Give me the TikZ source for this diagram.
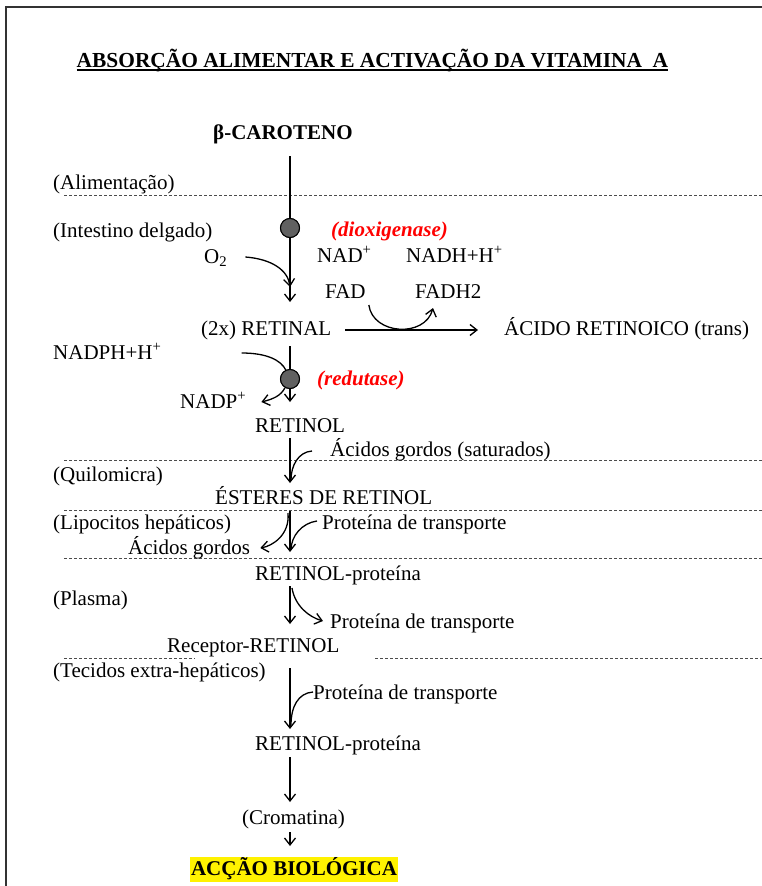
\documentclass[tikz,border=0pt]{standalone}
\usepackage{fontspec}
\setmainfont{Liberation Serif}
\usetikzlibrary{arrows.meta, positioning, calc}

\begin{document}
\begin{tikzpicture}[x=1pt, y=-1pt,
    lbl/.style={anchor=base west, inner sep=0pt, font=\fontsize{21}{25}\selectfont},
    enzlbl/.style={anchor=base west, inner sep=0pt, text=red, font=\fontsize{21}{25}\selectfont\bfseries\itshape},
    enzdot/.style={circle, draw=black, line width=1pt, fill=black!62, minimum size=19pt, inner sep=0pt},
    arr/.style={line width=1.3pt, -{Straight Barb[length=7pt,width=11pt]}},
    lnk/.style={line width=1.3pt},
    zone/.style={dash pattern=on 3pt off 2pt, line width=0.8pt, black!70}]
    \useasboundingbox (0,0) rectangle (762,886);
    % Frame
    \draw[line width=2pt, black!80] (6,886) -- (6,7) -- (762,7);
    % Title
    \node[anchor=base, inner sep=0pt, font=\fontsize{21.4}{25}\selectfont\bfseries] (titulo) at (372.5,67) {ABSORÇÃO ALIMENTAR E ACTIVAÇÃO DA VITAMINA\ \ A};
    \draw[line width=1.8pt] ($(titulo.base west)+(0,3)$) -- ($(titulo.base east)+(0,3)$);
    % Compartments (left) and zone borders
    \node[lbl] (aliment) at (53,189) {(Alimentação)};
    \node[lbl] (intestino) at (53,237) {(Intestino delgado)};
    \node[lbl] (quilo) at (53,481) {(Quilomicra)};
    \node[lbl] (lipo) at (53,529) {(Lipocitos hepáticos)};
    \node[lbl] (plasma) at (53,605) {(Plasma)};
    \node[lbl] (tecidos) at (53,677) {(Tecidos extra-hepáticos)};
    \draw[zone] (64,195) -- (762,195);
    \draw[zone] (64,460) -- (762,460);
    \draw[zone] (64,510) -- (762,510);
    \draw[zone] (64,558) -- (762,558);
    \draw[zone] (64,658) -- (195,658);
    \draw[zone] (375,658) -- (762,658);
    % Main chain
    \node[lbl, font=\fontsize{21}{25}\selectfont\bfseries] (caroteno) at (213,139) {β-CAROTENO};
    \node[enzdot] (enz1) at (290,228) {};
    \node[enzlbl] (dioxi) at (331,236) {(dioxigenase)};
    \node[lbl] (oxig) at (204,263) {O\textsubscript{2}};
    \node[lbl] (nad) at (317,262) {NAD\textsuperscript{+}};
    \node[lbl] (nadh) at (406,262) {NADH+H\textsuperscript{+}};
    \node[lbl] (fad) at (325,298) {FAD};
    \node[lbl] (fadh) at (415,298) {FADH2};
    \node[lbl] (retinal) at (201,335) {(2x) RETINAL};
    \node[lbl] (acido) at (504,335) {ÁCIDO RETINOICO (trans)};
    \node[lbl] (nadph) at (53,359) {NADPH+H\textsuperscript{+}};
    \node[enzdot] (enz2) at (290,379) {};
    \node[enzlbl] (redut) at (317,385) {(redutase)};
    \node[lbl] (nadp) at (180,408) {NADP\textsuperscript{+}};
    \node[lbl] (retinol) at (255,432) {RETINOL};
    \node[lbl] (acsat) at (330,456) {Ácidos gordos (saturados)};
    \node[lbl] (esteres) at (215,504) {ÉSTERES DE RETINOL};
    \node[lbl] (prot1) at (322,529) {Proteína de transporte};
    \node[lbl] (acgord) at (128,554) {Ácidos gordos};
    \node[lbl] (retprot) at (255,580) {RETINOL-proteína};
    \node[lbl] (prot2) at (330,628) {Proteína de transporte};
    \node[lbl] (receptor) at (167,652) {Receptor-RETINOL};
    \node[lbl] (prot3) at (313,699) {Proteína de transporte};
    \node[lbl] (retprot2) at (255,750) {RETINOL-proteína};
    \node[lbl] (cromatina) at (242,824) {(Cromatina)};
    \node[anchor=base, fill=yellow, inner xsep=1.5pt, inner ysep=2pt, text height=16pt, text depth=5pt,
          font=\fontsize{21}{25}\selectfont\bfseries] (accao) at (294,875) {ACÇÃO BIOLÓGICA};
    % Arrows: carotene -> retinal
    \draw[arr] ($(caroteno.base -| enz1)+(0,17)$) -- ($(retinal.base -| enz1)+(0,-33)$);
    \node[enzdot] at (enz1) {};
    \draw[arr] ($(oxig.base east)+(18,-6)$) .. controls +(26,2) and +(-2,-17) .. ($(retinal.base -| enz1)+(0,-48)$);
    \draw[arr] ($(fad.base east)+(3,7)$) .. controls +(4,30) and +(-8,30) .. ($(fadh.base west)+(18,10)$);
    \draw[arr] ($(retinal.base east)+(14,-5)$) -- ($(acido.base west)+(-26,-5)$);
    % Retinal -> retinol
    \draw[arr] ($(retinal.base -| enz2)+(0,11)$) -- ($(retinol.base -| enz2)+(0,-30)$);
    \draw[lnk] ($(nadph.base east)+(80,-6)$) .. controls +(25,0) and +(-5,-10) .. (enz2.115);
    \node[enzdot] at (enz2) {};
    \draw[arr] (enz2.240) .. controls +(-4,8) and +(12,-3) .. ($(nadp.base east)+(15,-6)$);
    % Retinol -> esters
    \draw[arr] ($(retinol.base -| enz2)+(0,6)$) -- ($(esteres.base -| enz2)+(0,-21)$);
    \draw[lnk] ($(acsat.base west)+(-18,-5)$) .. controls +(-14,1) and +(0,-14) .. ($(esteres.base -| enz2)+(1,-24)$);
    % Esters -> retinol-protein
    \draw[arr] ($(esteres.base -| enz2)+(0,7)$) -- ($(retprot.base -| enz2)+(0,-28)$);
    \draw[arr] ($(esteres.base -| enz2)+(-2,9)$) .. controls +(2,22) and +(12,-2) .. ($(acgord.base east)+(10,-6)$);
    \draw[lnk] ($(prot1.base west)+(-5,-8)$) .. controls +(-15,2) and +(0,-14) .. ($(retprot.base -| enz2)+(1,-30)$);
    % Plasma
    \draw[arr] ($(retprot.base -| enz2)+(0,6)$) -- ($(receptor.base -| enz2)+(0,-28)$);
    \draw[arr] ($(retprot.base -| enz2)+(2,8)$) .. controls +(3,18) and +(-14,-4) .. ($(prot2.base west)+(-7,-7)$);
    % Extra-hepatic tissues
    \draw[arr] ($(receptor.base -| enz2)+(0,16)$) -- ($(retprot2.base -| enz2)+(0,-21)$);
    \draw[lnk] ($(prot3.base west)+(0,-7)$) .. controls +(-15,1) and +(0,-18) .. ($(retprot2.base -| enz2)+(1,-25)$);
    \draw[arr] ($(retprot2.base -| enz2)+(0,7)$) -- ($(cromatina.base -| enz2)+(0,-22)$);
    \draw[arr] ($(cromatina.base -| enz2)+(0,8)$) -- ($(accao.base -| enz2)+(0,-29)$);
\end{tikzpicture}
\end{document}
